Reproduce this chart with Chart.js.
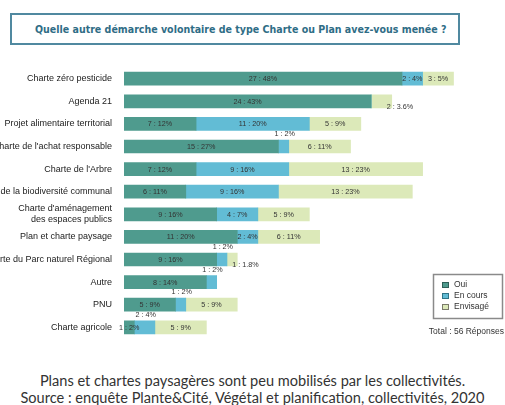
<!DOCTYPE html>
<html><head><meta charset="utf-8">
<script src="https://cdn.jsdelivr.net/npm/chart.js@4/dist/chart.umd.min.js"></script>
<style>
html,body{margin:0;padding:0;background:#fff;width:505px;height:405px;overflow:hidden;position:relative}
#title{position:absolute;left:10px;top:13px;width:446px;height:28px;border:2px solid #5089a0;box-sizing:content-box;
 color:#2f6d86;font-weight:bold;line-height:28px;white-space:nowrap}
#title span{position:absolute;left:23px;top:0}
#cv{position:absolute;left:0;top:50px}
.cap{position:absolute;left:0;width:505px;text-align:center;color:#333;white-space:nowrap;font-family:Lato,"Open Sans",sans-serif}
</style></head>
<body>
<div id="title"><span id="tt">Quelle autre démarche volontaire de type Charte ou Plan avez-vous menée ?</span></div>
<canvas id="cv" width="505" height="306"></canvas>
<div class="cap" id="c1" style="top:372px">Plans et chartes paysagères sont peu mobilisés par les collectivités.</div>
<div class="cap" id="c2" style="top:389px">Source : enquête Plante&amp;Cité, Végétal et planification, collectivités, 2020</div>
<script>
const categories = ['Charte zéro pesticide','Agenda 21','Projet alimentaire territorial',"Charte de l'achat responsable","Charte de l'Arbre",'Atlas de la biodiversité communal',["Charte d'aménagement",'des espaces publics'],'Plan et charte paysage','Charte du Parc naturel Régional','Autre','PNU','Charte agricole'];
const seriesNames = ['Oui','En cours','Envisagé'];
const oui = [27,24,7,15,7,6,9,11,9,8,5,1];
const enCours = [2,0,11,1,9,9,4,2,1,1,1,2];
const envisage = [3,2,5,6,13,13,5,6,1,0,5,5];
const ouiPct = [48,43,12,27,12,11,16,20,16,14,9,2];
const enCoursPct = [4,0,20,2,16,16,7,4,2,2,2,4];
const envisagePct = [5,3.6,9,11,23,23,9,11,1.8,0,9,9];
const totalText = 'Total : 56 Réponses';

// label placement style (dataset:row -> placement), default centered
const placement = {'2:1':'belowRight','1:3':'above','1:8':'above','2:8':'belowRight','1:9':'above','1:10':'above','1:11':'above'};

const colors = ['#4f9b8e','#62bcd5','#dce9b9'];
const borders = ['#2e5f57','#2f7487','#7a7a6a'];

function fitFont(text, weight, family, target){
  const c=document.createElement('canvas').getContext('2d');
  c.font = weight+' 100px '+family;
  return 100*target/c.measureText(text).width;
}
const tt=document.getElementById('tt');
tt.style.fontFamily='"Liberation Sans Narrow","DejaVu Sans Condensed",sans-serif';
tt.style.fontSize=fitFont(tt.textContent,'bold','"Liberation Sans Narrow","DejaVu Sans Condensed",sans-serif',412)+'px';
const c2=document.getElementById('c2'), c1=document.getElementById('c1');
const capSize=fitFont(c2.textContent,'normal','Lato,"Open Sans",sans-serif',465);
c1.style.fontSize=capSize+'px'; c2.style.fontSize=capSize+'px';

const pcts=[ouiPct,enCoursPct,envisagePct];
const labelPlugin={
  id:'barLabels',
  afterDatasetsDraw(chart){
    const ctx=chart.ctx;
    ctx.save();
    ctx.font='7.2px "Liberation Sans", Arial, sans-serif';
    ctx.fillStyle='#333';
    ctx.textBaseline='middle';
    chart.data.datasets.forEach((ds,di)=>{
      const meta=chart.getDatasetMeta(di);
      meta.data.forEach((el,ri)=>{
        const v=ds.data[ri];
        if(!v) return;
        const txt=v+' : '+pcts[di][ri]+'%';
        const p=placement[di+':'+ri]||'center';
        const cx=(el.x+el.base)/2;
        if(p==='center'){ctx.textAlign='center';ctx.fillText(txt,cx,el.y+0.5);}
        else if(p==='above'){ctx.textAlign='center';ctx.fillText(txt,cx+1,el.y-12.5);}
        else {ctx.textAlign='left';ctx.fillText(txt,el.x-5,el.y+6);}
      });
    });
    ctx.restore();
  },
  afterDraw(chart){
    const ctx=chart.ctx;
    ctx.save();
    ctx.strokeStyle='#8a8a8a';ctx.lineWidth=1.5;
    ctx.strokeRect(433.5,224.5,69,44);
    ctx.font='8.5px "Liberation Sans", Arial, sans-serif';
    ctx.textBaseline='middle';ctx.textAlign='left';
    chart.data.datasets.forEach((ds,i)=>{
      const y=235+i*11;
      ctx.fillStyle=ds.backgroundColor;ctx.fillRect(442,y-3,7,6);
      ctx.strokeStyle=borders[i];ctx.lineWidth=1;ctx.strokeRect(442.5,y-2.5,6,5);
      ctx.fillStyle='#333';ctx.fillText(ds.label,454,y);
    });
    ctx.textAlign='right';ctx.fillText(totalText,504,282);
    ctx.restore();
  }
};

new Chart(document.getElementById('cv'),{
  type:'bar',
  data:{labels:categories,datasets:[
    {label:seriesNames[0],data:oui,backgroundColor:colors[0],barThickness:13},
    {label:seriesNames[1],data:enCours,backgroundColor:colors[1],barThickness:13},
    {label:seriesNames[2],data:envisage,backgroundColor:colors[2],barThickness:13}
  ]},
  options:{
    indexAxis:'y',responsive:false,animation:false,devicePixelRatio:1,
    layout:{padding:{top:6,bottom:2,left:0,right:0}},
    scales:{
      x:{stacked:true,display:false,min:0,max:37},
      y:{stacked:true,grid:{display:false,drawTicks:false},border:{display:false},
         ticks:{autoSkip:false,padding:12,color:'#222',font:{family:'"Liberation Sans", Arial, sans-serif',size:9}},
         afterFit(s){s.width=124;}}
    },
    plugins:{legend:{display:false},tooltip:{enabled:false}}
  },
  plugins:[labelPlugin]
});
</script>
</body></html>
